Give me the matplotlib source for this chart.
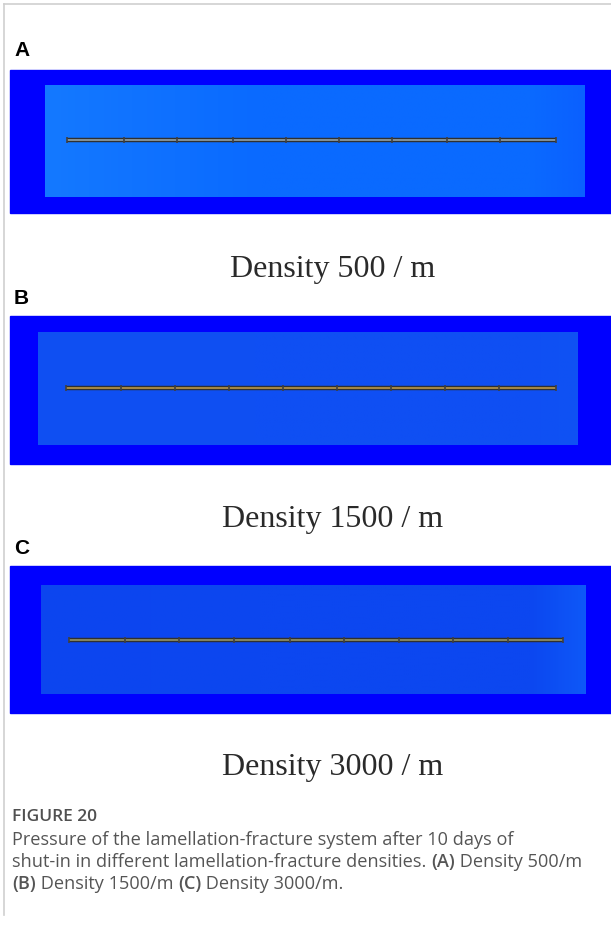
import matplotlib.pyplot as plt
import numpy as np
from matplotlib.patches import Rectangle

# panel data
labels = ["A", "B", "C"]
densities = [500, 1500, 3000]
# fracture node positions along the lamellation line (pixel x of the model image)
nodes_a = [67, 124, 177, 233, 286, 339, 392, 447, 500, 556]
nodes_b = [66, 121, 175, 229, 283, 337, 391, 445, 499, 556]
nodes_c = [69, 125, 179, 234, 290, 344, 399, 453, 508, 563]
nodes = [nodes_a, nodes_b, nodes_c]

# inner pressure field colours (left, mid, right)
field_left = ["#1479ff", "#1050f2", "#0c45ef"]
field_mid = ["#0a6aff", "#0f4ff3", "#0c47f0"]
field_right = ["#0a60ff", "#0f52f4", "#0e58f8"]
line_colors = ["#8a9aa0", "#b09048", "#8c8c62"]

# layout (pixels)
outer_boxes = [(10, 70, 611, 213), (10, 316, 611, 464), (10, 566, 611, 713)]
inner_boxes = [(45, 85, 585, 197), (38, 333, 578, 445), (41, 585, 586, 694)]
line_y = [140, 388, 640]
label_y = [50, 298, 548]
density_y = [270, 519, 767]

W, H = 611, 927
fig = plt.figure(figsize=(W / 100, H / 100), dpi=100)
ax = fig.add_axes([0, 0, 1, 1])
ax.set_xlim(0, W)
ax.set_ylim(H, 0)
ax.axis("off")

# frame lines
ax.plot([4, W], [4, 4], color="#cfcfcf", lw=1.2)
ax.plot([4, 4], [4, 915], color="#cfcfcf", lw=1.2)

to_rgb = plt.matplotlib.colors.to_rgb
for i in range(3):
    x0, y0, x1, y1 = outer_boxes[i]
    ax.add_patch(Rectangle((x0, y0), x1 - x0, y1 - y0, color="#0000ff", zorder=1))
    ix0, iy0, ix1, iy1 = inner_boxes[i]
    cols = np.array([to_rgb(field_left[i]), to_rgb(field_mid[i]), to_rgb(field_mid[i]), to_rgb(field_right[i])])
    t = np.linspace(0, 1, 200)
    grad = np.stack([np.interp(t, [0, 0.4, 0.9, 1], cols[:, k]) for k in range(3)], axis=-1)[None]
    grad = np.repeat(grad, 2, axis=0)
    ax.imshow(grad, extent=(ix0, ix1, iy1, iy0), aspect="auto", zorder=2, interpolation="bilinear")

    xs = nodes[i]
    y = line_y[i]
    ax.plot([xs[0], xs[-1]], [y, y], color="#303030", lw=3.2, solid_capstyle="butt", zorder=3)
    ax.plot([xs[0], xs[-1]], [y, y], color=line_colors[i], lw=1.3, solid_capstyle="butt", zorder=4)
    ax.plot(xs, [y] * len(xs), linestyle="none", marker="|", ms=4, mew=1.2, color="#404040", zorder=5)

    ax.text(14, label_y[i], labels[i], fontsize=15, fontweight="bold", family="Liberation Sans",
            va="center", ha="left")
    ax.text(333, density_y[i], f"Density {densities[i]} / m", fontsize=23, family="Liberation Serif",
            color="#2a2a2a", va="center", ha="center")

# caption
ax.text(12, 821, "FIGURE 20", fontsize=12.5, family="Open Sans", fontweight="semibold",
        color="#505050", va="baseline")

cap_lines = [
    [("Pressure of the lamellation-fracture system after 10 days of", False)],
    [("shut-in in different lamellation-fracture densities. ", False), ("(A)", True), (" Density 500/m", False)],
    [("(B)", True), (" Density 1500/m ", False), ("(C)", True), (" Density 3000/m.", False)],
]
cap_y = [845, 867, 889]
fig.canvas.draw()
r = fig.canvas.get_renderer()
inv = ax.transData.inverted()
for runs, y in zip(cap_lines, cap_y):
    x = 12
    for s, b in runs:
        t = ax.text(x, y, s, fontsize=13.1, family="Open Sans", fontweight="semibold" if b else "normal",
                    color="#555555", va="baseline", ha="left")
        bb = t.get_window_extent(renderer=r)
        x = inv.transform((bb.x1, bb.y0))[0]

fig.savefig("out.png", dpi=100)
